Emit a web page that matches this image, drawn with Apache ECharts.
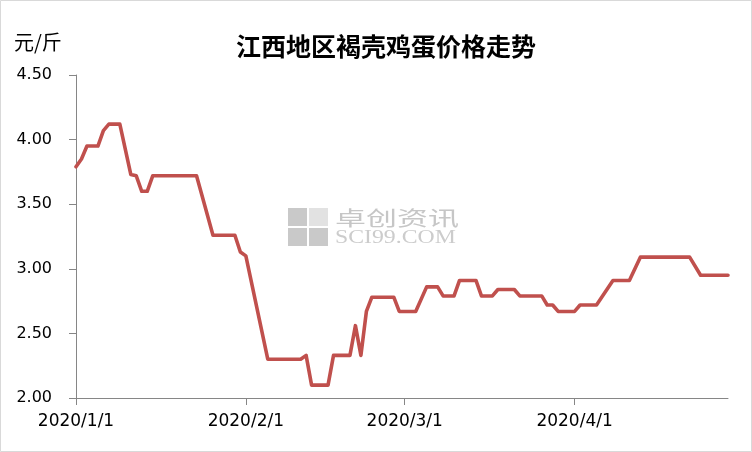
<!DOCTYPE html>
<html>
<head>
<meta charset="utf-8">
<script src="https://cdn.jsdelivr.net/npm/echarts@6/dist/echarts.min.js"></script>
<style>
html,body{margin:0;padding:0;background:#fff;}
#chart{width:752px;height:452px;}
</style>
</head>
<body>
<div id="chart"></div>
<script>
// Vertices of the price line (date, price in 元/斤)
var dates = [
  '2020-01-01','2020-01-02','2020-01-03','2020-01-05','2020-01-06','2020-01-07','2020-01-09',
  '2020-01-11','2020-01-12','2020-01-13','2020-01-14','2020-01-15','2020-01-23','2020-01-26',
  '2020-01-30','2020-01-31','2020-02-01','2020-02-05','2020-02-11','2020-02-12','2020-02-13',
  '2020-02-16','2020-02-17','2020-02-20','2020-02-21','2020-02-22','2020-02-23','2020-02-24',
  '2020-02-28','2020-02-29','2020-03-03','2020-03-05','2020-03-07','2020-03-08','2020-03-10',
  '2020-03-11','2020-03-14','2020-03-15','2020-03-17','2020-03-18','2020-03-21','2020-03-22',
  '2020-03-26','2020-03-27','2020-03-28','2020-03-29','2020-04-01','2020-04-02','2020-04-05',
  '2020-04-08','2020-04-11','2020-04-13','2020-04-22','2020-04-24','2020-04-29'
];
var prices = [
  3.79,3.85,3.95,3.95,4.07,4.12,4.12,
  3.73,3.72,3.60,3.60,3.72,3.72,3.26,
  3.26,3.13,3.10,2.30,2.30,2.33,2.10,
  2.10,2.33,2.33,2.56,2.33,2.67,2.78,
  2.78,2.67,2.67,2.86,2.86,2.79,2.79,
  2.91,2.91,2.79,2.79,2.84,2.84,2.79,
  2.79,2.72,2.72,2.67,2.67,2.72,2.72,
  2.91,2.91,3.09,3.09,2.95,2.95
];
var tickDates = ['2020-01-01','2020-02-01','2020-03-01','2020-04-01'];
var tickLabels = ['2020/1/1','2020/2/1','2020/3/1','2020/4/1'];
var axisStart = '2020-01-01';
var axisEnd = '2020-04-29';
var titleText = '江西地区褐壳鸡蛋价格走势';
var unitText = '元/斤';

function dayIndex(s){
  var p = s.split('-');
  return Math.round((Date.UTC(+p[0], +p[1]-1, +p[2]) - Date.UTC(2020,0,1)) / 86400000);
}
var seriesData = dates.map(function(d,i){ return [dayIndex(d), prices[i]]; });
var tickIdx = tickDates.map(dayIndex);
var labelMap = {};
tickIdx.forEach(function(v,i){ labelMap[v] = tickLabels[i]; });

var chart = echarts.init(document.getElementById('chart'), null, {renderer:'canvas'});
chart.setOption({
  backgroundColor:'#ffffff',
  animation:false,
  grid:{left:76, right:24, top:75, bottom:54},
  title:{
    text:titleText,
    left:381, top:29, textAlign:'center',
    textStyle:{fontFamily:'Noto Sans CJK SC', fontSize:25, fontWeight:'bold', color:'#000'}
  },
  graphic:[
    {type:'rect', shape:{x:0.5,y:0.5,width:751,height:451}, style:{fill:'none', stroke:'#d9d9d9', lineWidth:1}, silent:true},
    {type:'text', left:14, top:32, style:{text:unitText, fontFamily:'Noto Sans CJK SC', fontSize:20, fill:'#000'}},
    // watermark
    {type:'rect', shape:{x:288,y:208,width:19,height:18}, style:{fill:'#c9c9c9'}, silent:true, z:-1},
    {type:'rect', shape:{x:309,y:208,width:19,height:18}, style:{fill:'#e2e2e2'}, silent:true, z:-1},
    {type:'rect', shape:{x:288,y:228,width:19,height:18}, style:{fill:'#c9c9c9'}, silent:true, z:-1},
    {type:'rect', shape:{x:309,y:228,width:19,height:18}, style:{fill:'#c9c9c9'}, silent:true, z:-1},
    {type:'text', x:335, y:218, scaleX:1.55, style:{text:'卓创资讯', fontFamily:'Noto Sans CJK SC', fontSize:20, fill:'#c6c6c6', verticalAlign:'middle'}, silent:true, z:-1},
    {type:'text', x:335, y:238, scaleX:1.25, style:{text:'SCI99.COM', fontFamily:'Liberation Serif', fontSize:19, fill:'#cccccc', verticalAlign:'middle'}, silent:true, z:-1}
  ],
  xAxis:{
    type:'value',
    min:dayIndex(axisStart), max:dayIndex(axisEnd),
    splitLine:{show:false},
    axisLine:{show:true, lineStyle:{color:'#868686', width:1}},
    axisTick:{show:true, inside:false, length:7, lineStyle:{color:'#868686'}, customValues:tickIdx},
    axisLabel:{
      customValues:tickIdx,
      formatter:function(v){ return labelMap[v] || ''; },
      margin:15, fontFamily:'DejaVu Sans', fontSize:17, color:'#000'
    }
  },
  yAxis:{
    type:'value',
    min:2, max:4.5, interval:0.5,
    splitLine:{show:false},
    axisLine:{show:true, lineStyle:{color:'#868686', width:1}},
    axisTick:{show:true, inside:false, length:7, lineStyle:{color:'#868686'}},
    axisLabel:{
      formatter:function(v){ return v.toFixed(2); },
      margin:24, fontFamily:'DejaVu Sans', fontSize:16, color:'#000'
    }
  },
  series:[{
    type:'line',
    data:seriesData,
    showSymbol:false,
    symbol:'none',
    lineStyle:{color:'#C0504D', width:3.6, cap:'round', join:'round'},
    z:3
  }]
});
</script>
</body>
</html>
